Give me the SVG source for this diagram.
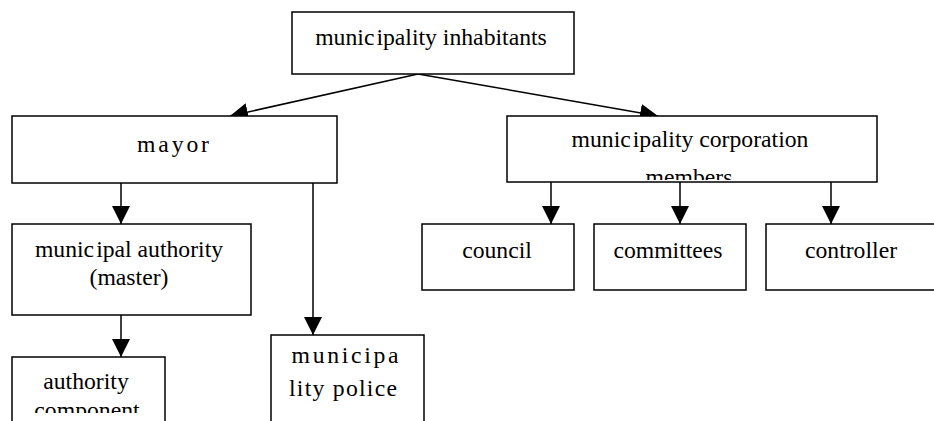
<svg xmlns="http://www.w3.org/2000/svg" width="934" height="421" viewBox="0 0 934 421">
  <style>
    .box { fill: #ffffff; stroke: #000000; stroke-width: 1.5; }
    .edge { fill: none; stroke: #000000; stroke-width: 1.5; marker-end: url(#arrow); }
    text { font-family: "Liberation Serif", "Times New Roman", serif; font-size: 23.7px; fill: #000000; text-anchor: middle; }
  </style>
  <defs>
    <marker id="arrow" viewBox="0 0 18 18" refX="18" refY="9" markerWidth="18" markerHeight="18" markerUnits="userSpaceOnUse" orient="auto">
      <path d="M0,0 L18,9 L0,18 z" fill="#000000"/>
    </marker>
    <!-- text inside these boxes is cut at the inner edge of the frame -->
    <clipPath id="clip-corp"><rect x="508" y="117" width="368" height="63"/></clipPath>
    <clipPath id="clip-comp"><rect x="13" y="358" width="151" height="55"/></clipPath>
  </defs>

  <g id="connectors">
    <path class="edge" d="M418,74 L230,116"/>
    <path class="edge" d="M418,74 L658,116"/>
    <path class="edge" d="M121,183 L121,224"/>
    <path class="edge" d="M313,183 L313,335"/>
    <path class="edge" d="M121,315 L121,357"/>
    <path class="edge" d="M551,182 L551,224"/>
    <path class="edge" d="M680,182 L680,224"/>
    <path class="edge" d="M831,182 L831,224"/>
  </g>

  <g id="inhabitants">
    <rect class="box" x="292" y="12" width="282" height="62"/>
    <text x="431" y="45">munic<tspan dx="2">ipality inhabitants</tspan></text>
  </g>

  <g id="mayor">
    <rect class="box" x="12" y="116" width="325" height="67"/>
    <text x="173" y="152" textLength="72" lengthAdjust="spacing">mayor</text>
  </g>

  <g id="corporation">
    <rect class="box" x="507" y="116" width="370" height="66"/>
    <g clip-path="url(#clip-corp)">
      <text x="690" y="147">munic<tspan dx="2">ipality corporation</tspan></text>
      <text x="689" y="185">members</text>
    </g>
  </g>

  <g id="municipal-authority">
    <rect class="box" x="12" y="224" width="239" height="91"/>
    <text x="129" y="257">munic<tspan dx="2">ipal authority</tspan></text>
    <text x="129" y="285">(master)</text>
  </g>

  <g id="authority-component">
    <rect class="box" x="12" y="357" width="153" height="80"/>
    <g clip-path="url(#clip-comp)">
      <text x="86" y="389">authority</text>
      <text x="87" y="418">component</text>
    </g>
  </g>

  <g id="police">
    <rect class="box" x="271" y="335" width="153" height="100"/>
    <text x="345" y="363" textLength="107" lengthAdjust="spacing">municipa</text>
    <text x="343" y="396" textLength="108" lengthAdjust="spacing">lity police</text>
  </g>

  <g id="council">
    <rect class="box" x="422" y="224" width="152" height="66"/>
    <text x="497" y="258">council</text>
  </g>

  <g id="committees">
    <rect class="box" x="594" y="224" width="152" height="66"/>
    <text x="668" y="258">committees</text>
  </g>

  <g id="controller">
    <rect class="box" x="766" y="224" width="172" height="66"/>
    <text x="851" y="258">controller</text>
  </g>
</svg>
